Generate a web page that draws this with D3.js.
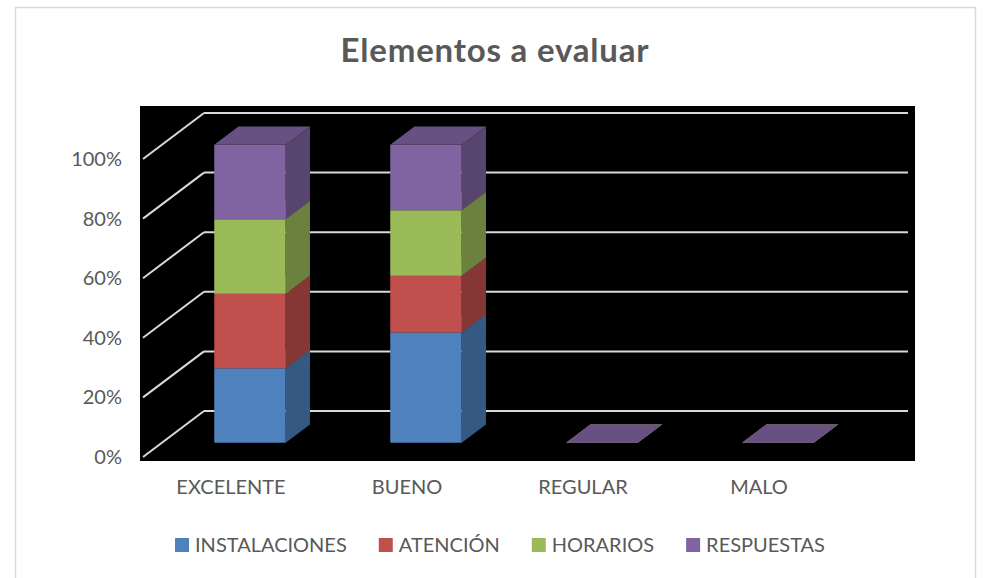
<!DOCTYPE html>
<html>
<head>
<meta charset="utf-8">
<script src="https://cdn.jsdelivr.net/npm/d3@7"></script>
<style>
  body { margin: 0; background: #fff; }
  text { font-family: Lato, "Open Sans", sans-serif; fill: #595959; }
</style>
</head>
<body>
<svg id="chart" width="984" height="578"></svg>
<script>
  const categories = ['EXCELENTE', 'BUENO', 'REGULAR', 'MALO'];
  const seriesNames = ['INSTALACIONES', 'ATENCIÓN', 'HORARIOS', 'RESPUESTAS'];
  const instalaciones = [25, 37, 0, 0];
  const atencion = [25, 19, 0, 0];
  const horarios = [25, 22, 0, 0];
  const respuestas = [25, 22, 0, 0];
  const yTicks = [0, 0.2, 0.4, 0.6, 0.8, 1];

  const seriesValues = [instalaciones, atencion, horarios, respuestas];
  const colors = ['#4f81bd', '#c0504d', '#9bbb59', '#8064a2'];
  const sideColor = c => d3.rgb(c).darker(1.05);
  const topColor = c => d3.rgb(c).darker(0.6);

  const svg = d3.select('#chart');

  // table built from the arrays
  const rows = categories.map((c, i) => {
    const row = { category: c };
    seriesNames.forEach((s, k) => { row[s] = seriesValues[k][i]; });
    return row;
  });
  const stacked = d3.stack().keys(seriesNames).offset(d3.stackOffsetExpand)(rows);

  // back wall scales + depth vector for the 3D look
  const x = d3.scaleBand().domain(categories).range([204, 908]);
  const y = d3.scaleLinear().domain([0, 1]).range([411, 113]);
  const DX = -61, DY = 46;
  const BAR_FRAC = 0.406;
  const D0 = 0.291, D1 = 0.689;
  const proj = (px, v, d) => [px + d * DX, y(v) + d * DY];

  // chart frame
  svg.append('rect')
    .attr('x', 15.5).attr('y', 7.5)
    .attr('width', 960).attr('height', 620)
    .attr('fill', '#fff')
    .attr('stroke', '#d9d9d9')
    .attr('stroke-width', 1.5);

  svg.append('text')
    .attr('x', 495)
    .attr('y', 62)
    .attr('text-anchor', 'middle')
    .style('font-size', '33px')
    .style('font-weight', 'bold')
    .style('letter-spacing', '0.8px')
    .text('Elementos a evaluar');

  // plot area
  svg.append('rect')
    .attr('x', 140).attr('y', 106)
    .attr('width', 775).attr('height', 355)
    .attr('fill', '#000');

  const grid = svg.append('g')
    .attr('stroke', '#d9d9d9')
    .attr('stroke-width', 2)
    .attr('fill', 'none');

  grid.selectAll('line.back')
    .data(yTicks)
    .enter()
    .append('line')
    .attr('x1', x.range()[0]).attr('x2', x.range()[1])
    .attr('y1', d => y(d)).attr('y2', d => y(d));

  grid.selectAll('line.side')
    .data(yTicks)
    .enter()
    .append('line')
    .attr('x1', x.range()[0]).attr('y1', d => y(d))
    .attr('x2', d => proj(x.range()[0], d, 1)[0])
    .attr('y2', d => proj(x.range()[0], d, 1)[1]);

  // tick labels on the front edge of the side wall
  svg.append('g')
    .selectAll('text')
    .data(yTicks)
    .enter()
    .append('text')
    .attr('x', 122)
    .attr('y', d => proj(x.range()[0], d, 1)[1] + 7)
    .attr('text-anchor', 'end')
    .style('font-size', '20px')
    .text(d => d3.format('.0%')(d));

  // bars
  const barW = x.bandwidth() * BAR_FRAC;
  const poly = pts => pts.map(p => p.join(',')).join(' ');
  const bars = svg.append('g');

  stacked.forEach((s, k) => {
    const g = bars.append('g');
    s.forEach((d, i) => {
      const x0 = x(categories[i]) + (x.bandwidth() - barW) / 2;
      const x1 = x0 + barW;
      const v0 = d[0], v1 = d[1];
      if (v1 - v0 > 0) {
        g.append('polygon')
          .attr('points', poly([proj(x0, v0, D1), proj(x1, v0, D1), proj(x1, v1, D1), proj(x0, v1, D1)]))
          .attr('fill', colors[k]);
        g.append('polygon')
          .attr('points', poly([proj(x1, v0, D1), proj(x1, v0, D0), proj(x1, v1, D0), proj(x1, v1, D1)]))
          .attr('fill', sideColor(colors[k]));
      }
      g.append('polygon')
        .attr('points', poly([proj(x0, v1, D1), proj(x1, v1, D1), proj(x1, v1, D0), proj(x0, v1, D0)]))
        .attr('fill', topColor(colors[k]));
    });
  });

  // category labels at front of the floor
  svg.append('g')
    .selectAll('text')
    .data(categories)
    .enter()
    .append('text')
    .attr('x', d => x(d) + x.bandwidth() / 2 + DX)
    .attr('y', 494)
    .attr('text-anchor', 'middle')
    .style('font-size', '20px')
    .text(d => d);

  // legend
  const SW = 14, GAP = 6, ITEM_GAP = 32;
  const items = svg.append('g')
    .selectAll('g')
    .data(seriesNames)
    .enter()
    .append('g');
  items.append('rect')
    .attr('width', SW).attr('height', SW)
    .attr('y', 538)
    .attr('fill', (d, i) => colors[i]);
  items.append('text')
    .attr('x', SW + GAP)
    .attr('y', 552)
    .style('font-size', '20px')
    .text(d => d);

  let offset = 0;
  const starts = [];
  items.each(function () {
    const w = SW + GAP + d3.select(this).select('text').node().getComputedTextLength();
    starts.push(offset);
    offset += w + ITEM_GAP;
  });
  const total = offset - ITEM_GAP;
  const left = 500 - total / 2;
  items.attr('transform', (d, i) => `translate(${left + starts[i]},0)`);
</script>
</body>
</html>
